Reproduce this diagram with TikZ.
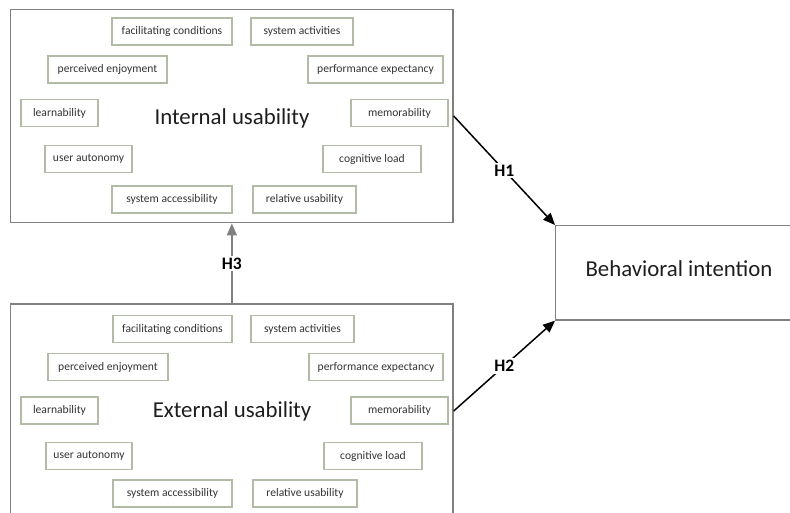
\documentclass[tikz,border=0pt]{standalone}
\usepackage{fontspec}
\setmainfont{Carlito}
\usetikzlibrary{arrows.meta}
\definecolor{sboxc}{HTML}{B2BBA6}
\definecolor{bboxc}{HTML}{808080}
\definecolor{txt}{HTML}{333333}
\definecolor{bigtxt}{HTML}{1E1E1E}
\tikzset{
  sbox/.style={draw=sboxc, line width=1.2pt, minimum height=27pt, inner sep=0pt,
    font=\fontsize{11.6}{13}\selectfont, text=txt},
  bbox/.style={draw=bboxc, line width=1.4pt, inner sep=0pt},
  bigtext/.style={font=\fontsize{22.8}{25}\selectfont, text=bigtxt},
  hlab/.style={fill=white, inner sep=2pt, font=\bfseries\fontsize{17.5}{19}\selectfont},
  harrow/.style={line width=1.5pt, -{Triangle[length=12pt,width=10pt]}},
  garrow/.style={draw=bboxc, line width=1.5pt, -{Triangle[length=12pt,width=10pt]}, fill=bboxc}
}
\begin{document}
\begin{tikzpicture}[x=1pt,y=-1pt]
\useasboundingbox (0,0) rectangle (790,513);
\clip (0,0) rectangle (790,513);
% big boxes
\node[bbox, minimum width=442.3pt, minimum height=213.4pt] (int) at (231.85,116) {};
\node[bbox, minimum width=442.3pt, minimum height=296pt] (ext) at (231.85,452) {};
\node[bbox, minimum width=400pt, minimum height=94.3pt] (bi) at (755.7,272.85) {};
\node[bigtext] (it) at (232,118) {Internal usability};
\node[bigtext] (et) at (232,411) {External usability};
\node[bigtext] (bt) at (679,269) {Behavioral intention};
% internal small boxes
\node[sbox, minimum width=120pt] (t1) at (172,31.5) {facilitating conditions};
\node[sbox, minimum width=102pt] (t2) at (302,31.5) {system activities};
\node[sbox, minimum width=119pt] (t3) at (107.5,69.5) {perceived enjoyment};
\node[sbox, minimum width=135pt] (t4) at (375.5,69.5) {performance expectancy};
\node[sbox, minimum width=77pt] (t5) at (59.5,113) {learnability};
\node[sbox, minimum width=97pt] (t6) at (399.5,113) {memorability};
\node[sbox, minimum width=87pt] (t7) at (88.5,159) {user autonomy};
\node[sbox, minimum width=98pt] (t8) at (372,159) {cognitive load};
\node[sbox, minimum width=120pt] (t9) at (172,199.5) {system accessibility};
\node[sbox, minimum width=103pt] (t10) at (304.5,199.5) {relative usability};
% external small boxes
\node[sbox, minimum width=119pt] (b1) at (172.5,329) {facilitating conditions};
\node[sbox, minimum width=103pt] (b2) at (302.5,329) {system activities};
\node[sbox, minimum width=120pt] (b3) at (108,367) {perceived enjoyment};
\node[sbox, minimum width=134pt] (b4) at (376,367) {performance expectancy};
\node[sbox, minimum width=77pt] (b5) at (59.5,410.5) {learnability};
\node[sbox, minimum width=97pt] (b6) at (399.5,410.5) {memorability};
\node[sbox, minimum width=86pt] (b7) at (89,456) {user autonomy};
\node[sbox, minimum width=98pt] (b8) at (373,456) {cognitive load};
\node[sbox, minimum width=119pt] (b9) at (172.5,493.5) {system accessibility};
\node[sbox, minimum width=104pt] (b10) at (305,493.5) {relative usability};
% arrows
\draw[harrow] (int.east) -- node[hlab] (h1) {H1} (bi.north west);
\draw[harrow] (ext.east |- et) -- node[hlab] (h2) {H2} (bi.south west);
\draw[garrow] (ext.north) -- node[hlab] (h3) {H3} (int.south);
\end{tikzpicture}
\end{document}
